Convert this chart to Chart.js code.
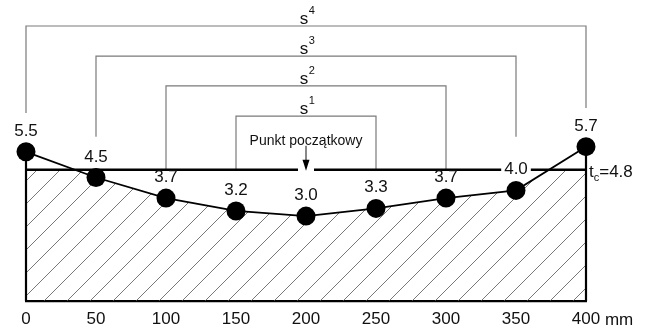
<!DOCTYPE html>
<html><head><meta charset="utf-8">
<script src="https://cdn.jsdelivr.net/npm/chart.js@4/dist/chart.umd.min.js"></script>
<style>html,body{margin:0;padding:0;background:#fff;}#wrap{width:648px;height:329px;}</style>
</head><body><div id="wrap"><canvas id="c" width="648" height="329"></canvas></div>
<script>
const xValues = [0, 50, 100, 150, 200, 250, 300, 350, 400];
const thickness = [5.5, 4.5, 3.7, 3.2, 3.0, 3.3, 3.7, 4.0, 5.7];
const valueLabels = ['5.5', '4.5', '3.7', '3.2', '3.0', '3.3', '3.7', '4.0', '5.7'];
const tickLabels = ['0', '50', '100', '150', '200', '250', '300', '350', '400'];
const axisUnit = 'mm';
const tcValue = 4.8;
const tcText = ['t', 'c', '=4.8'];
const bracketName = ['s', 's', 's', 's'];
const bracketSup = ['1', '2', '3', '4'];
const bracketFrom = [150, 100, 50, 0];
const bracketTo = [250, 300, 350, 400];
const bracketLevel = [6.89, 8.06, 9.22, 10.39];
const bracketLeftEnd = [4.8, 4.8, 6.08, 7.01];
const bracketRightEnd = [4.8, 4.8, 6.08, 7.2];
const startText = 'Punkt początkowy';
const startX = 200;
const yMin = -0.3, yMax = 11.4;

const FONT = '"Liberation Sans", Arial, Helvetica, sans-serif';

function hatchPattern() {
  const s = 23;
  const c = document.createElement('canvas');
  c.width = s; c.height = s;
  const g = c.getContext('2d');
  g.strokeStyle = '#555';
  g.lineWidth = 0.8;
  g.beginPath();
  g.moveTo(-2, s + 2); g.lineTo(s + 2, -2);
  g.moveTo(-2, 2); g.lineTo(2, -2);
  g.moveTo(s - 2, s + 2); g.lineTo(s + 2, s - 2);
  g.stroke();
  return g.createPattern(c, 'repeat');
}

const profile = xValues.map((x, i) => ({x, y: thickness[i]}));
const tcData = [{x: xValues[0], y: tcValue}, {x: xValues[xValues.length - 1], y: tcValue}];

const datasets = [];
datasets.push({data: tcData, fill: 'start', backgroundColor: hatchPattern(), borderWidth: 0, pointRadius: 0, order: 20});
datasets.push({data: profile, fill: {target: {value: tcValue}, above: 'rgba(0,0,0,0)', below: '#ffffff'}, borderWidth: 0, borderColor: 'rgba(0,0,0,0)', pointRadius: 0, order: 19});
for (let i = 0; i < bracketLevel.length; i++) {
  datasets.push({
    data: [{x: bracketFrom[i], y: bracketLeftEnd[i]}, {x: bracketFrom[i], y: bracketLevel[i]},
           {x: bracketTo[i], y: bracketLevel[i]}, {x: bracketTo[i], y: bracketRightEnd[i]}],
    borderColor: '#7a7a7a', borderWidth: 1.2, pointRadius: 0, fill: false, order: 12, clip: false
  });
}
datasets.push({data: tcData, borderColor: '#000', borderWidth: 2.6, pointRadius: 0, fill: false, order: 5, clip: false});
datasets.push({data: [{x: xValues[0], y: yMin}, {x: xValues[0], y: thickness[0]}], borderColor: '#000', borderWidth: 2.2, pointRadius: 0, fill: false, order: 4, clip: false});
datasets.push({data: [{x: xValues[xValues.length-1], y: yMin}, {x: xValues[xValues.length-1], y: thickness[thickness.length-1]}], borderColor: '#000', borderWidth: 2.2, pointRadius: 0, fill: false, order: 4, clip: false});
datasets.push({data: profile, borderColor: '#000', borderWidth: 1.8, pointRadius: 9.5, pointBackgroundColor: '#000', pointBorderWidth: 0, fill: false, order: 1, clip: false});

const annot = {
  id: 'annot',
  afterDatasetsDraw(chart) {
    const ctx = chart.ctx;
    const xs = chart.scales.x, ys = chart.scales.y;
    ctx.save();
    ctx.textBaseline = 'alphabetic';
    const ax = xs.getPixelForValue(startX);
    const ty = ys.getPixelForValue(tcValue);
    ctx.fillStyle = '#fff';
    ctx.fillRect(ax - 8, ty - 3, 16, 6);
    ctx.strokeStyle = '#111'; ctx.lineWidth = 1;
    ctx.beginPath(); ctx.moveTo(ax, ty - 24); ctx.lineTo(ax, ty - 6); ctx.stroke();
    ctx.fillStyle = '#000';
    ctx.beginPath(); ctx.moveTo(ax - 3.5, ty - 10); ctx.lineTo(ax + 3.5, ty - 10); ctx.lineTo(ax, ty + 1); ctx.closePath(); ctx.fill();
    ctx.fillStyle = '#111';
    ctx.font = '14px ' + FONT;
    ctx.textAlign = 'center';
    ctx.fillText(startText, ax, ty - 25);
    for (let i = 0; i < bracketLevel.length; i++) {
      const cx = xs.getPixelForValue((bracketFrom[i] + bracketTo[i]) / 2);
      const by = ys.getPixelForValue(bracketLevel[i]);
      ctx.font = '17px ' + FONT;
      const w1 = ctx.measureText(bracketName[i]).width;
      ctx.font = '11px ' + FONT;
      const w2 = ctx.measureText(bracketSup[i]).width;
      const x0 = cx - (w1 + w2) / 2 + 1;
      ctx.textAlign = 'left';
      ctx.font = '17px ' + FONT;
      ctx.fillText(bracketName[i], x0, by - 2);
      ctx.font = '11px ' + FONT;
      ctx.fillText(bracketSup[i], x0 + w1 + 0.5, by - 12);
    }
    ctx.font = '17px ' + FONT;
    ctx.textAlign = 'center';
    for (let i = 0; i < xValues.length; i++) {
      const px = xs.getPixelForValue(xValues[i]);
      const py = ys.getPixelForValue(thickness[i]) - 22;
      const w = ctx.measureText(valueLabels[i]).width;
      ctx.fillStyle = '#fff';
      ctx.fillRect(px - w / 2 - 3, py - 4.5, w + 6, 10.5);
      ctx.fillStyle = '#111';
      ctx.fillText(valueLabels[i], px, py + 6);
    }
    const lx = xs.getPixelForValue(xValues[xValues.length - 1]) + 3;
    ctx.textAlign = 'left';
    ctx.font = '17px ' + FONT;
    ctx.fillText(tcText[0], lx, ty + 7);
    const wt = ctx.measureText(tcText[0]).width;
    ctx.font = '11px ' + FONT;
    ctx.fillText(tcText[1], lx + wt, ty + 11);
    const wc = ctx.measureText(tcText[1]).width;
    ctx.font = '17px ' + FONT;
    ctx.fillText(tcText[2], lx + wt + wc, ty + 7);
    const lastTick = tickLabels[tickLabels.length - 1];
    const ux = xs.getPixelForValue(xValues[xValues.length - 1]) + ctx.measureText(lastTick).width / 2 + ctx.measureText(' ').width;
    ctx.fillText(axisUnit, ux, xs.top + 24);
    ctx.restore();
  }
};

new Chart(document.getElementById('c'), {
  type: 'scatter',
  data: {datasets},
  options: {
    responsive: false,
    animation: false,
    showLine: true,
    layout: {autoPadding: false, padding: {left: 26, right: 62, top: 0, bottom: 0}},
    plugins: {legend: {display: false}, tooltip: {enabled: false}},
    elements: {line: {tension: 0}},
    scales: {
      x: {
        type: 'linear', min: 0, max: 400,
        afterFit: (s) => { s.height = 28; },
        grid: {display: false, drawTicks: false},
        border: {display: true, color: '#000', width: 2.2},
        ticks: {stepSize: 50, padding: 8, color: '#111', font: {size: 17, family: FONT}, maxRotation: 0,
          callback: (v, i) => tickLabels[i]}
      },
      y: {type: 'linear', min: yMin, max: yMax, display: false}
    }
  },
  plugins: [annot]
});
</script></body></html>
